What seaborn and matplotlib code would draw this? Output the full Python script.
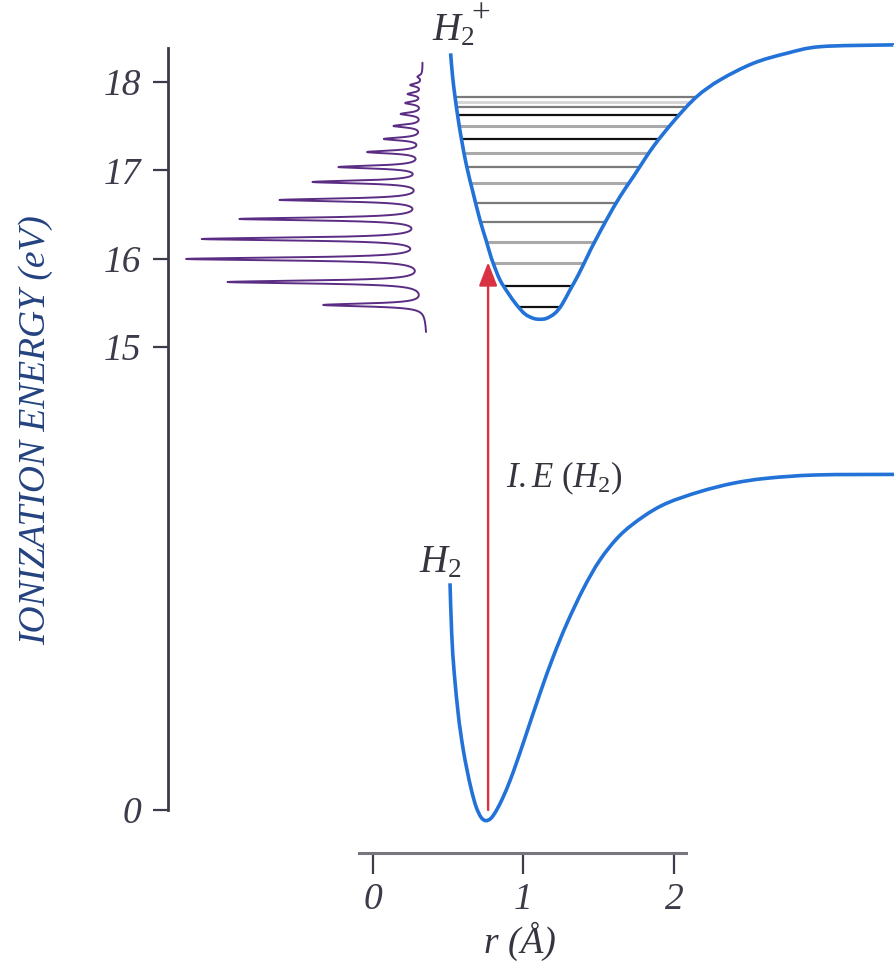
import numpy as np
import matplotlib
matplotlib.use("Agg")
import matplotlib.pyplot as plt
from matplotlib.path import Path
from matplotlib.patches import PathPatch
import seaborn as sns

# ── values ───────────────────────────────────────────────────────────────────
# H2 ground state curve, r in Å, energy in eV (lower, compressed part)
R_H2 = [0.512, 0.523, 0.540, 0.566, 0.580, 0.600, 0.625, 0.654, 0.685, 0.718,
        0.749, 0.784, 0.822, 0.866, 0.910, 0.955, 1.010, 1.110, 1.198, 1.287,
        1.397, 1.508, 1.641, 1.796, 1.951, 2.173, 2.394, 2.616, 2.948, 3.462]
E_H2 = [2.567, 2.001, 1.548, 1.095, 0.906, 0.679, 0.453, 0.226, 0.037, -0.083,
        -0.121, -0.094, 0.000, 0.150, 0.330, 0.541, 0.816, 1.322, 1.736, 2.106,
        2.502, 2.830, 3.110, 3.322, 3.473, 3.605, 3.700, 3.756, 3.794, 3.800]

# H2+ ion curve
R_H2P = [0.516, 0.528, 0.545, 0.565, 0.589, 0.623, 0.666, 0.711, 0.751, 0.777,
         0.799, 0.844, 0.899, 0.955, 1.010, 1.065, 1.110, 1.154, 1.209, 1.254,
         1.309, 1.364, 1.431, 1.464, 1.553, 1.641, 1.730, 1.862, 2.005, 2.151,
         2.306, 2.527, 2.749, 2.970, 3.391, 3.462]
E_H2P = [18.326, 18.080, 17.835, 17.593, 17.344, 17.042, 16.741, 16.438, 16.212, 16.061,
         15.948, 15.759, 15.608, 15.476, 15.374, 15.325, 15.314, 15.325, 15.382, 15.476,
         15.646, 15.815, 16.048, 16.161, 16.444, 16.702, 16.929, 17.268, 17.571, 17.835,
         18.024, 18.213, 18.326, 18.401, 18.420, 18.420]

# vibrational levels drawn inside the H2+ well
LEVELS_H2P = [17.835, 17.778, 17.721, 17.627, 17.503, 17.352, 17.194, 17.042,
              16.854, 16.634, 16.419, 16.193, 15.955, 15.691, 15.457]
LEVEL_SHADES = ["#7a7a7a", "#d6d6d6", "#7a7a7a", "#111111", "#a9a9a9", "#111111",
                "#a9a9a9", "#7a7a7a", "#a9a9a9", "#7a7a7a", "#7a7a7a", "#a9a9a9",
                "#a9a9a9", "#111111", "#111111"]

# photoelectron spectrum: peak energies (eV) and relative intensities
PEAK_E = [15.476, 15.736, 15.997, 16.223, 16.450, 16.665, 16.869, 17.038,
          17.208, 17.356, 17.503, 17.639, 17.763, 17.865, 17.967, 18.060]
PEAK_I = [0.43, 0.83, 1.00, 0.93, 0.77, 0.60, 0.46, 0.35,
          0.23, 0.16, 0.12, 0.09, 0.07, 0.06, 0.05, 0.02]
SPEC_RANGE = [15.17, 18.22]
SPEC_BASE = [0.359, 0.332]   # baseline position (Å axis units) at both ends

# vertical ionization arrow
IE_R = 0.765
IE_FROM = 0.0
IE_TO = 15.96

X_TICKS = [0, 1, 2]
Y_TICK_LABELS = ["0", "15", "16", "17", "18"]

# ── layout / style ───────────────────────────────────────────────────────────
LOW_OFFSET = 9.757      # where 0 eV sits on the broken energy axis
SPEC_SCALE = 1.57
SPEC_WIDTH = 0.02
BLUE = "#2272d8"
PURPLE = "#5b2c83"
RED = "#d93242"
AXIS_COL = "#3b3b4a"
TEXT_COL = "#35353f"


def smooth_curve(xs, ys):
    # cubic bezier segments through every read point (Catmull-Rom tangents)
    p = np.column_stack([xs, ys]).astype(float)
    ext = np.vstack([p[0], p, p[-1]])
    verts = [p[0]]
    codes = [Path.MOVETO]
    for i in range(len(p) - 1):
        p0, p1, p2, p3 = ext[i], ext[i + 1], ext[i + 2], ext[i + 3]
        verts += [p1 + (p2 - p0) / 6, p2 - (p3 - p1) / 6, p2]
        codes += [Path.CURVE4] * 3
    return Path(verts, codes)


sns.set_theme(style="white")
plt.rcParams["font.family"] = ["Liberation Serif", "DejaVu Serif"]
plt.rcParams["mathtext.fontset"] = "custom"
plt.rcParams["mathtext.rm"] = "Liberation Serif"
plt.rcParams["mathtext.it"] = "Liberation Serif:italic"

fig = plt.figure(figsize=(8.94, 9.67), dpi=100)
ax = fig.add_axes([168 / 894, 114 / 967, 726 / 894, 813 / 967])

# potential curves
for rr, ee in [(R_H2, np.array(E_H2) + LOW_OFFSET), (R_H2P, E_H2P)]:
    ax.add_patch(PathPatch(smooth_curve(rr, ee), fill=False, ec=BLUE, lw=2.6,
                           capstyle="butt", zorder=3))

# vibrational levels between the two walls of the H2+ curve
imin = int(np.argmin(E_H2P))
r_left_wall = np.array(R_H2P[:imin + 1])
e_left_wall = np.array(E_H2P[:imin + 1])
r_right_wall = np.array(R_H2P[imin:])
e_right_wall = np.array(E_H2P[imin:])
lv = np.array(LEVELS_H2P)
x0 = np.interp(lv, e_left_wall[::-1], r_left_wall[::-1])
x1 = np.interp(lv, e_right_wall, r_right_wall)
widths = [1.6 if c in ("#111111", "#7a7a7a") else 2.2 for c in LEVEL_SHADES]
ax.hlines(lv, x0, x1, colors=LEVEL_SHADES, linewidths=widths, zorder=2)

# spectrum drawn sideways along the energy axis
e = np.linspace(SPEC_RANGE[0], SPEC_RANGE[1], 5000)
prof = np.zeros_like(e)
for pe, pi in zip(PEAK_E, PEAK_I):
    prof += pi * SPEC_WIDTH**2 / ((e - pe)**2 + SPEC_WIDTH**2)
base = np.interp(e, SPEC_RANGE, SPEC_BASE)
sns.lineplot(x=base - SPEC_SCALE * prof, y=e, sort=False, estimator=None,
             color=PURPLE, lw=1.4, ax=ax, zorder=2)

# ionization arrow
ax.annotate("", xy=(IE_R, IE_TO), xytext=(IE_R, IE_FROM + LOW_OFFSET),
            arrowprops=dict(arrowstyle="-|>,head_length=0.9,head_width=0.35",
                            mutation_scale=16, color=RED, lw=1.7,
                            shrinkA=0, shrinkB=0), zorder=4)

# labels
ax.text(0.532, 18.585, r"$H_{\mathit{2}}$", fontsize=28, color=TEXT_COL,
        ha="center", va="center")
ax.text(0.718, 18.76, "+", fontsize=24, color=TEXT_COL, ha="center", va="center")
ax.text(0.45, LOW_OFFSET + 2.80, r"$H_{\mathit{2}}$", fontsize=28, color=TEXT_COL,
        ha="center", va="center")
ax.text(1.27, LOW_OFFSET + 3.76, r"$I.E\ (H_{\mathit{2}})$", fontsize=25,
        color=TEXT_COL, ha="center", va="center")

# axes
ax.set_xlim(-1.362, 3.462)
ax.set_ylim(9.2695, 18.4768)
sns.despine(ax=ax)
ax.spines["left"].set_bounds(LOW_OFFSET, 18.386)
ax.spines["bottom"].set_bounds(-0.09, 2.08)
ax.spines["left"].set_color(AXIS_COL)
ax.spines["bottom"].set_color("#76767e")
ax.spines["left"].set_linewidth(2.0)
ax.spines["bottom"].set_linewidth(2.2)

ax.set_xticks(X_TICKS)
ax.set_xticklabels([str(t) for t in X_TICKS], fontsize=27, style="italic")
ax.set_yticks([LOW_OFFSET, 15, 16, 17, 18])
ax.set_yticklabels(Y_TICK_LABELS, fontsize=27, style="italic")
ax.tick_params(axis="x", length=15, width=1.6, pad=6, colors=AXIS_COL, bottom=True)
ax.tick_params(axis="y", length=11, width=1.6, pad=8, colors=AXIS_COL, left=True)

ax.set_xlabel("r (Å)", fontsize=27, style="italic", color=TEXT_COL)
ax.xaxis.set_label_coords(0.485, -0.085)
ax.set_ylabel("IONIZATION ENERGY (eV)", fontsize=27, style="italic", color="#23427f")
ax.yaxis.set_label_coords(-0.182, 0.52)
ax.yaxis.label.set_va("center")
ax.xaxis.label.set_va("top")

fig.savefig("out.png", dpi=100)
